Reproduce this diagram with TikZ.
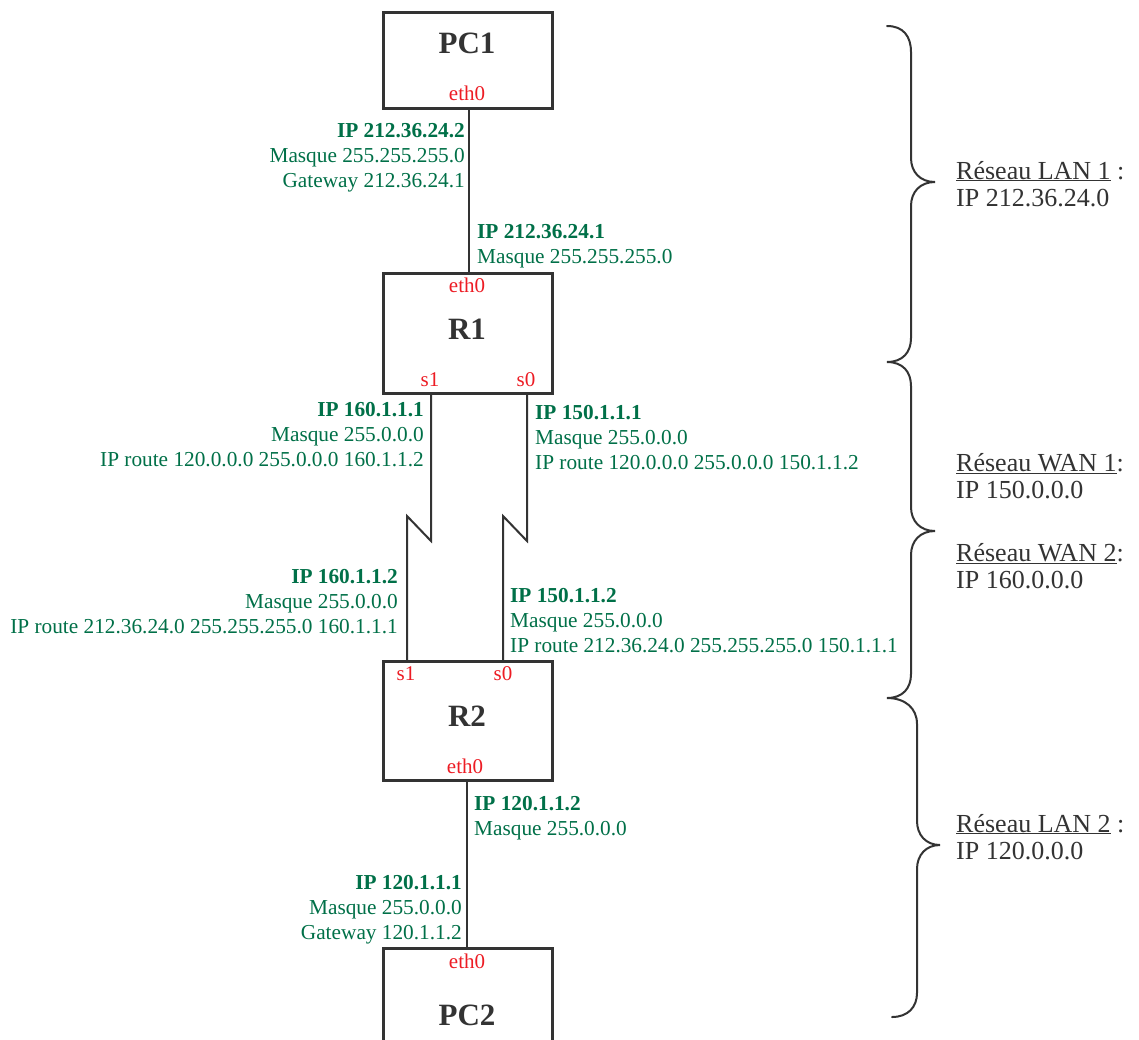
\documentclass[tikz,border=0pt]{standalone}
\usepackage{fontspec}
\setmainfont{Liberation Serif}
\definecolor{ipgreen}{RGB}{0,112,72}
\definecolor{ifred}{RGB}{237,28,36}
\definecolor{dk}{RGB}{51,51,51}
\begin{document}
\begin{tikzpicture}[x=1pt,y=-1pt,
  dev/.style={draw=dk, line width=3pt, rectangle, inner sep=0pt, outer sep=0pt, minimum width=169pt},
  ttl/.style={font=\fontsize{31}{31}\selectfont\bfseries, text=dk, inner sep=0pt, anchor=base},
  ifc/.style={font=\fontsize{21}{25}\selectfont, text=ifred, inner sep=0pt, anchor=base},
  cfgl/.style={font=\fontsize{21.3}{25}\selectfont, text=ipgreen, inner sep=0pt, anchor=base east},
  cfgr/.style={font=\fontsize{21.3}{25}\selectfont, text=ipgreen, inner sep=0pt, anchor=base west},
  net/.style={font=\fontsize{26}{27.5}\selectfont, text=dk, inner sep=0pt, anchor=base west},
  wire/.style={draw=dk, line width=2pt},
  brace/.style={draw=dk, line width=2pt, line cap=round}]
\useasboundingbox (0,0) rectangle (1139,1039);
\clip (0,0) rectangle (1139,1039);
\fill[white] (0,0) rectangle (1139,1039);

% devices
\node[dev, minimum height=96pt] (pc1) at (467.5,60) {};
\node[dev, minimum height=120pt] (r1) at (467.5,333) {};
\node[dev, minimum height=119pt] (r2) at (467.5,720.5) {};
\node[dev, minimum height=122pt] (pc2) at (467.5,1009) {};

\node[ttl] (tpc1) at (467,53) {PC1};
\node[ttl] (tr1) at (467,339) {R1};
\node[ttl] (tr2) at (467,726) {R2};
\node[ttl] (tpc2) at (467,1025) {PC2};

% interfaces
\node[ifc] (pc1eth) at (467,100) {eth0};
\node[ifc] (r1eth) at (467,292) {eth0};
\node[ifc] (r1s1) at (430,386) {s1};
\node[ifc] (r1s0) at (526,386) {s0};
\node[ifc] (r2s1) at (406,680) {s1};
\node[ifc] (r2s0) at (503,680) {s0};
\node[ifc] (r2eth) at (465,773) {eth0};
\node[ifc] (pc2eth) at (467,968) {eth0};

% connectors
\draw[wire] ([xshift=1.5pt]pc1.south) -- ([xshift=1.5pt]r1.north);
\coordinate (za1) at (431,541);
\coordinate (za2) at (407,516);
\coordinate (zb1) at (527,541);
\coordinate (zb2) at (503,516);
\draw[wire] ([xshift=-36.5pt]r1.south) -- (za1) -- (za2) -- ([xshift=-60.5pt]r2.north);
\draw[wire] ([xshift=59.5pt]r1.south) -- (zb1) -- (zb2) -- ([xshift=35.5pt]r2.north);
\draw[wire] ([xshift=-0.5pt]r2.south) -- ([xshift=-0.5pt]pc2.north);

% configuration labels
\node[cfgl] (c1) at (465,137) {\begin{tabular}[t]{@{}r@{}}\textbf{IP 212.36.24.2}\\Masque 255.255.255.0\\Gateway 212.36.24.1\end{tabular}};
\node[cfgr] (c2) at (477,238) {\begin{tabular}[t]{@{}l@{}}\textbf{IP 212.36.24.1}\\Masque 255.255.255.0\end{tabular}};
\node[cfgl] (c3) at (424,416) {\begin{tabular}[t]{@{}r@{}}\textbf{IP 160.1.1.1}\\Masque 255.0.0.0\\IP route 120.0.0.0 255.0.0.0 160.1.1.2\end{tabular}};
\node[cfgr] (c4) at (535,419) {\begin{tabular}[t]{@{}l@{}}\textbf{IP 150.1.1.1}\\Masque 255.0.0.0\\IP route 120.0.0.0 255.0.0.0 150.1.1.2\end{tabular}};
\node[cfgl] (c5) at (398,583) {\begin{tabular}[t]{@{}r@{}}\textbf{IP 160.1.1.2}\\Masque 255.0.0.0\\IP route 212.36.24.0 255.255.255.0 160.1.1.1\end{tabular}};
\node[cfgr] (c6) at (510,602) {\begin{tabular}[t]{@{}l@{}}\textbf{IP 150.1.1.2}\\Masque 255.0.0.0\\IP route 212.36.24.0 255.255.255.0 150.1.1.1\end{tabular}};
\node[cfgr] (c7) at (474,810) {\begin{tabular}[t]{@{}l@{}}\textbf{IP 120.1.1.2}\\Masque 255.0.0.0\end{tabular}};
\node[cfgl] (c8) at (462,889) {\begin{tabular}[t]{@{}r@{}}\textbf{IP 120.1.1.1}\\Masque 255.0.0.0\\Gateway 120.1.1.2\end{tabular}};

% braces
\draw[brace] (887,26) .. controls (903,26) and (911,36) .. (911,52) -- (911,158)
  .. controls (911,172) and (920,182) .. (935,182)
  .. controls (920,182) and (911,192) .. (911,206) -- (911,338)
  .. controls (911,352) and (903,362) .. (887,362)
  .. controls (903,362) and (911,372) .. (911,386) -- (911,507)
  .. controls (911,521) and (920,531) .. (935,531)
  .. controls (920,531) and (911,541) .. (911,555) -- (911,674)
  .. controls (911,688) and (903,698) .. (887,698)
  .. controls (905,698) and (917,708) .. (917,724) -- (917,821)
  .. controls (917,835) and (926,845) .. (940,845)
  .. controls (926,845) and (917,855) .. (917,869) -- (917,993)
  .. controls (917,1007) and (908,1017) .. (892,1017);

% network labels
\node[net] (lan1) at (956,179) {\begin{tabular}[t]{@{}l@{}}\underline{Réseau LAN 1} :\\IP 212.36.24.0\end{tabular}};
\node[net] (wan1) at (956,471) {\begin{tabular}[t]{@{}l@{}}\underline{Réseau WAN 1}:\\IP 150.0.0.0\end{tabular}};
\node[net] (wan2) at (956,561) {\begin{tabular}[t]{@{}l@{}}\underline{Réseau WAN 2}:\\IP 160.0.0.0\end{tabular}};
\node[net] (lan2) at (956,832) {\begin{tabular}[t]{@{}l@{}}\underline{Réseau LAN 2} :\\IP 120.0.0.0\end{tabular}};
\end{tikzpicture}
\end{document}
